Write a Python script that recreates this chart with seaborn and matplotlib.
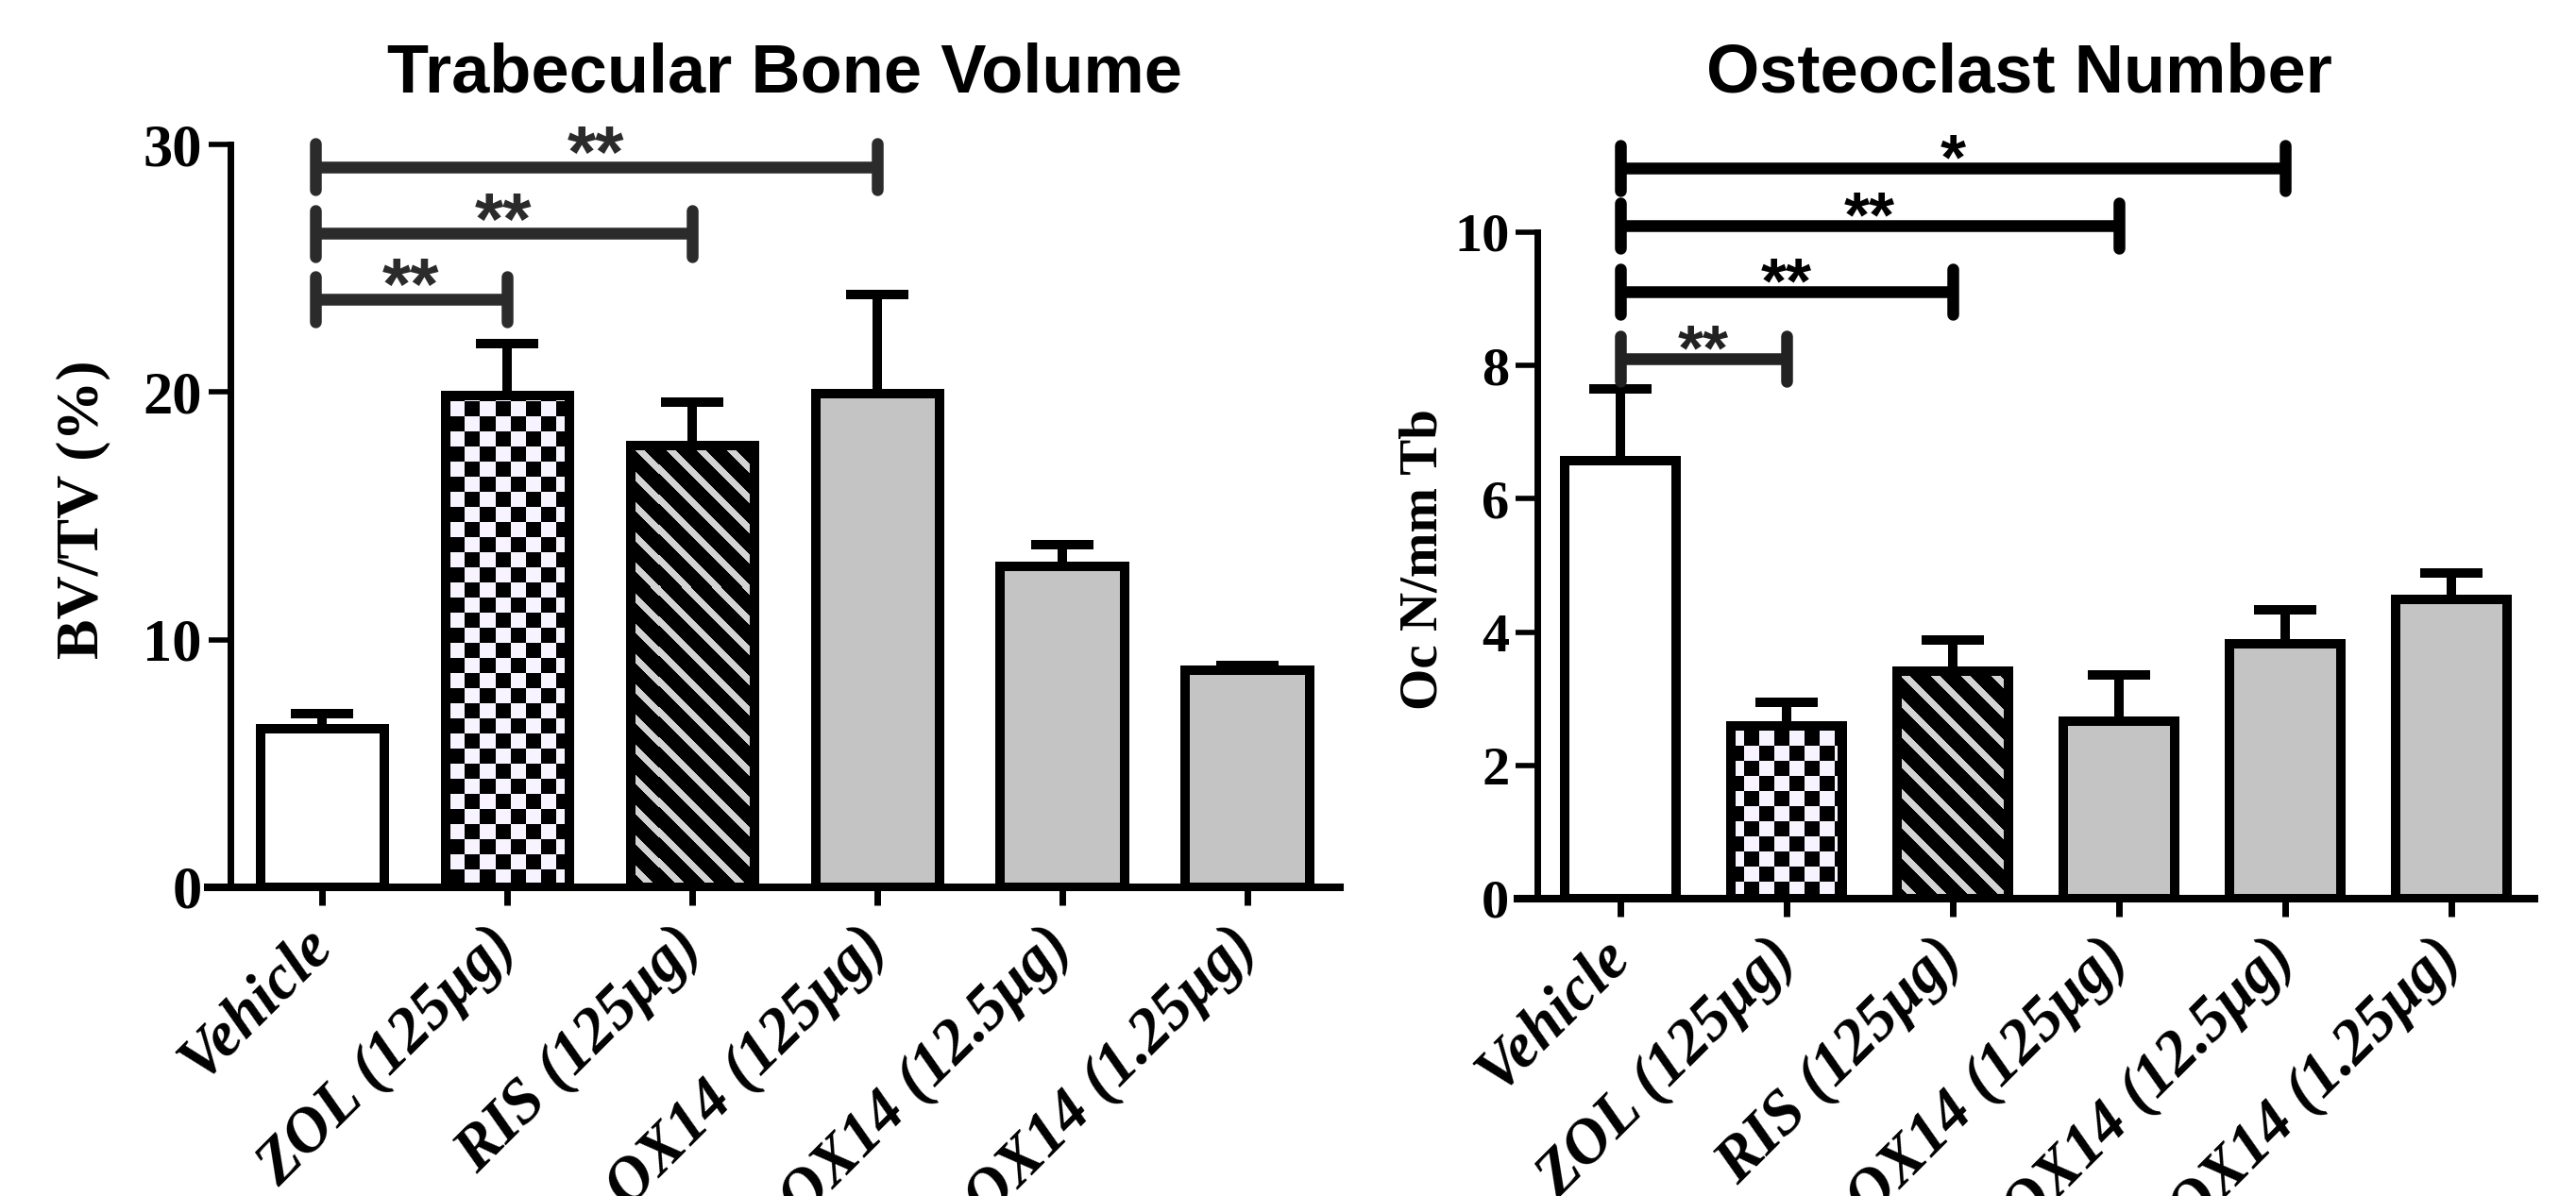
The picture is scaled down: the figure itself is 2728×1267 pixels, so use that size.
import numpy as np
import pandas as pd
import matplotlib
matplotlib.use("Agg")
import matplotlib.pyplot as plt
import seaborn as sns

# -----------------------
# Data
# -----------------------
groups = ["Vehicle", "ZOL (125μg)", "RIS (125μg)", "OX14 (125μg)",
          "OX14 (12.5μg)", "OX14 (1.25μg)"]

bv_mean = [6.4, 19.85, 17.85, 19.95, 12.95, 8.75]
bv_sem = [0.6, 2.1, 1.75, 4.0, 0.9, 0.2]

oc_mean = [6.57, 2.59, 3.41, 2.66, 3.83, 4.49]
oc_sem = [1.08, 0.36, 0.47, 0.70, 0.51, 0.39]

bv_sig_end = [3, 2, 1]
bv_sig_y = [29.1, 26.4, 23.75]
bv_sig_text = ["**", "**", "**"]

oc_sig_end = [4, 3, 2, 1]
oc_sig_y = [10.96, 10.1, 9.11, 8.1]
oc_sig_text = ["*", "**", "**", "**"]

# fill styles per bar
bar_fill = ["white", "checker", "stripes", "#c4c4c4", "#c4c4c4", "#c4c4c4"]

sns.set_style("ticks")
plt.rcParams["font.family"] = ["Liberation Serif", "DejaVu Serif"]
plt.rcParams.update({
    "text.color": "black",
    "axes.edgecolor": "black",
    "axes.labelcolor": "black",
    "xtick.color": "black",
    "ytick.color": "black",
})

W, H = 2728, 1267
fig = plt.figure(figsize=(W / 100, H / 100), dpi=100)

ax1 = fig.add_axes([220 / W, 1 - 940 / H, 1199 / W, 787 / H])
ax2 = fig.add_axes([1607 / W, 1 - 952 / H, 1077 / W, 706 / H])


def texture(ax, kind):
    bb = ax.get_position()
    w = int(round(bb.width * W))
    h = int(round(bb.height * H))
    rows, cols = np.mgrid[0:h, 0:w]
    img = np.ones((h, w, 3))
    if kind == "checker":
        mask = ((rows // 16 + cols // 16) % 2) == 0
        img[:] = [0.97, 0.96, 1.0]
        img[mask] = [0, 0, 0]
    else:
        mask = ((cols - rows) % 32) < 10
        img[:] = [0, 0, 0]
        img[mask] = [0.83, 0.83, 0.83]
    return img


def draw_panel(ax, means, sems, ymax, yticks, sig_end, sig_y, sig_text,
               sig_colors, tick_half, start_shift, star_size, ytick_size):
    df = pd.DataFrame({"group": groups, "value": means})
    pal = {g: (c if c.startswith("#") or c == "white" else "white")
           for g, c in zip(groups, bar_fill)}
    sns.barplot(data=df, x="group", y="value", hue="group", palette=pal,
                legend=False, width=0.67, edgecolor="black", linewidth=7.2,
                saturation=1, ax=ax, zorder=2)

    for patch, fill in zip(ax.patches, bar_fill):
        if fill in ("checker", "stripes"):
            patch.set_facecolor("none")
            im = ax.imshow(texture(ax, fill), extent=[0, 1, 0, 1],
                           transform=ax.transAxes, origin="upper",
                           interpolation="nearest", aspect="auto", zorder=1.5)
            im.set_clip_path(patch)

    ax.errorbar(range(len(groups)), means,
                yerr=[np.zeros(len(means)), sems], fmt="none",
                ecolor="black", elinewidth=7.2, capsize=24, capthick=7.2,
                zorder=1.8)

    # significance brackets
    for end, y, txt, col in zip(sig_end, sig_y, sig_text, sig_colors):
        x0 = 0 + start_shift
        ax.plot([x0, end], [y, y], color=col, lw=9, solid_capstyle="butt",
                clip_on=False, zorder=3)
        for xx in (x0, end):
            ax.plot([xx, xx], [y - tick_half, y + tick_half], color=col,
                    lw=9, solid_capstyle="round", clip_on=False, zorder=3)
        ax.annotate(txt, xy=((x0 + end) / 2, y), xytext=(0, -8),
                    textcoords="offset points", ha="center", va="baseline",
                    fontsize=star_size, fontweight="bold",
                    family=["Liberation Sans", "DejaVu Sans"], color=col,
                    annotation_clip=False)

    sns.despine(ax=ax)
    ax.spines["left"].set_position(("data", -0.5))
    ax.spines["left"].set_bounds(0, ymax)
    ax.spines["left"].set_linewidth(5)
    ax.spines["bottom"].set_linewidth(5.8)
    ax.set_xlim(-0.62, 5.5)
    ax.set_ylim(0, ymax)
    ax.set_yticks(yticks)
    ax.set_yticklabels([str(t) for t in yticks], fontweight="bold",
                       fontsize=ytick_size)
    ax.set_xticks(range(len(groups)))
    ax.set_xticklabels(groups, rotation=45, ha="right", va="center",
                       rotation_mode="anchor", fontweight="bold",
                       style="italic", fontsize=48)
    ax.tick_params(axis="y", direction="out", length=16.5, width=4, pad=5)
    ax.tick_params(axis="x", direction="out", length=14, width=5, pad=24)
    ax.set_xlabel("")
    ax.set_ylabel("")


draw_panel(ax1, bv_mean, bv_sem, 30, [0, 10, 20, 30], bv_sig_end, bv_sig_y,
           bv_sig_text, ["#2b2b2b"] * 3, 0.92, -0.04, 56, 45)
draw_panel(ax2, oc_mean, oc_sem, 10, [0, 2, 4, 6, 8, 10], oc_sig_end, oc_sig_y,
           oc_sig_text, ["black", "black", "black", "#222222"], 0.34, 0.0, 50, 42)

# titles and axis labels
fig.text(831 / W, 1 - 97 / H, "Trabecular Bone Volume", ha="center",
         va="baseline", fontsize=52, fontweight="bold",
         family=["Liberation Sans", "DejaVu Sans"])
fig.text(2138 / W, 1 - 97 / H, "Osteoclast Number", ha="center",
         va="baseline", fontsize=52, fontweight="bold",
         family=["Liberation Sans", "DejaVu Sans"])
fig.text(88 / W, 1 - 540 / H, "BV/TV (%)", rotation=90, ha="center",
         va="center", fontsize=46, fontweight="bold")
fig.text(1508 / W, 1 - 593 / H, "Oc N/mm Tb", rotation=90, ha="center",
         va="center", fontsize=41, fontweight="bold")

fig.savefig("out.png", dpi=100)
